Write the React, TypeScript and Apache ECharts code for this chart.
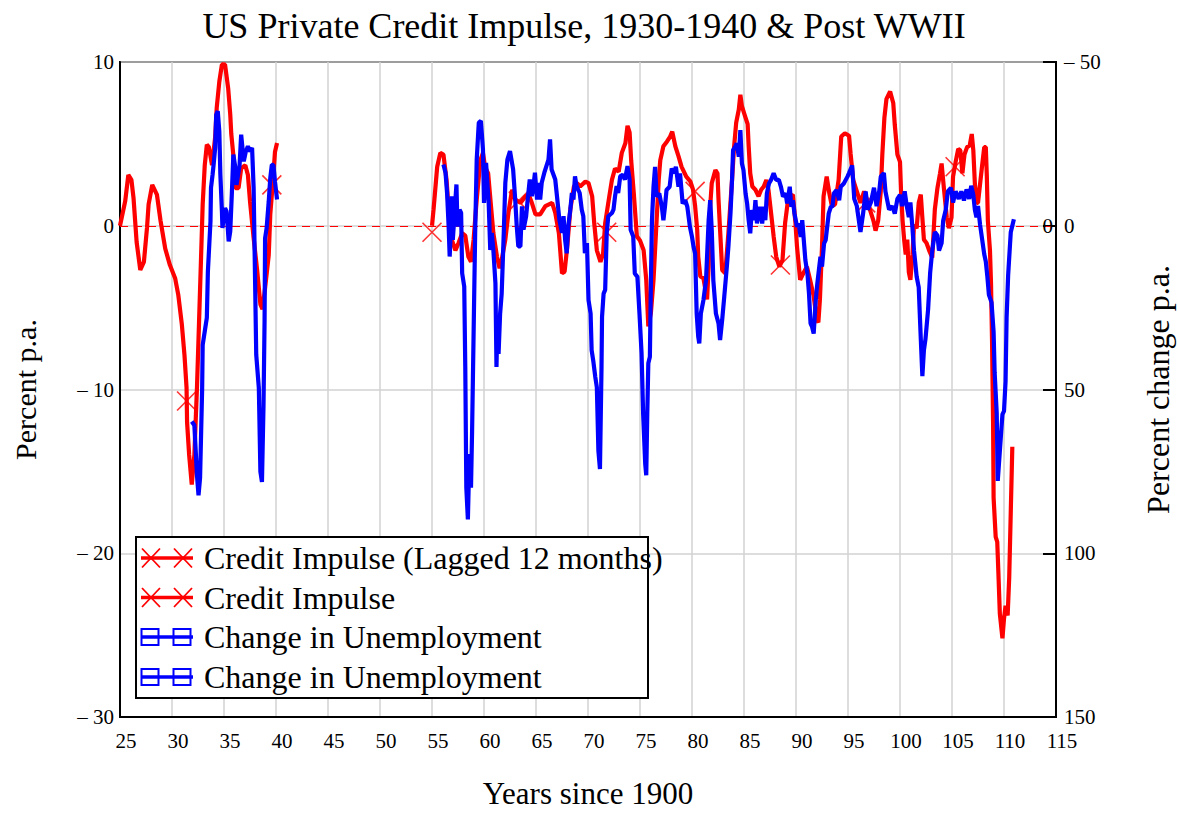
import React, { useEffect, useRef } from "react";
import * as echarts from "echarts";

const FONT = '"Liberation Serif", "Times New Roman", "DejaVu Serif", serif';

const TITLE = "US Private Credit Impulse, 1930-1940 & Post WWII";
const X_TICKS = { min: 25, max: 115, step: 5 };
const LEFT_TICKS = { min: -30, max: 10, step: 10 };
const RIGHT_TICKS = { min: -50, max: 150, step: 50 };

// Credit impulse, 1925-1940 (percent p.a., left axis)
const redPre: number[][] = [
  [25, 0], [25.5, 1.5], [25.8, 3.1], [26.1, 2.8], [26.3, 1.7], [26.6, -1], [26.95, -2.7], [27.3, -2.2],
  [27.6, -0.1], [27.75, 1.3], [28.1, 2.5], [28.55, 1.9], [28.9, 0.3], [29.35, -1.4], [29.8, -2.4],
  [30.3, -3.2], [30.6, -4.2], [30.95, -6.05], [31.2, -7.9], [31.4, -9.9], [31.45, -12], [31.65, -14],
  [31.9, -15.8], [32.15, -14], [32.4, -9.9], [32.6, -5.9], [32.8, -1.8], [32.95, 1.3], [33.15, 3.7],
  [33.35, 4.95], [33.55, 4.8], [33.85, 3.7], [34.15, 5.4], [34.3, 7.2], [34.55, 8.8], [34.8, 9.85],
  [35.1, 9.85], [35.4, 8.4], [35.6, 6.8], [35.7, 5.6], [35.9, 4.3], [36.1, 2.3], [36.4, 2.3], [36.65, 3.5],
  [37.05, 3.7], [37.3, 3.1], [37.5, 1.5], [37.85, -0.75], [38.2, -2.8], [38.5, -4.8], [38.7, -5.1],
  [38.95, -3.8], [39.3, -1.8], [39.45, 0.7], [39.7, 2.7], [39.9, 4.5], [40.1, 5.05],
];

// Credit impulse, post WWII (percent p.a., left axis)
const redPost: number[][] = [
  [55, 0], [55.15, 1.0], [55.5, 3.6], [55.8, 4.45], [56.1, 4.35], [56.4, 2.8], [56.6, 1.0], [56.9, -0.85],
  [57.25, -1.5], [57.55, -1.05], [57.9, -0.45], [58.2, -0.6], [58.5, -1.9], [58.75, -2.2], [59.0, -0.85],
  [59.3, 1.6], [59.65, 4.0], [59.9, 4.45], [60.1, 3.6], [60.4, 3.2], [60.7, 1.0], [60.9, -0.45],
  [61.25, -1.9], [61.5, -2.6], [61.7, -2.1], [62.05, -0.85], [62.35, 0.8], [62.7, 2.2], [63.0, 1.6],
  [63.5, 1.4], [64.0, 1.8], [64.3, 1.9], [64.6, 1.4], [64.95, 0.7], [65.4, 0.7], [65.9, 1.2], [66.55, 1.4],
  [66.85, 0.8], [67.2, -0.45], [67.5, -2.9], [67.75, -2.8], [68.0, -1.3], [68.3, 1.0], [68.65, 2.4],
  [68.95, 2.6], [69.25, 2.4], [69.75, 2.7], [70.05, 2.6], [70.4, 1.8], [70.6, 0.15], [70.85, -1.5],
  [71.2, -2.2], [71.45, -1.7], [71.65, 0.15], [72.0, 1.6], [72.3, 2.8], [72.6, 3.5], [72.95, 3.3],
  [73.25, 4.45], [73.6, 5.05], [73.8, 6.1], [74.0, 5.7], [74.15, 4.0], [74.4, 2.0], [74.7, -0.65],
  [75.0, -0.9], [75.35, -1.5], [75.6, -3.3], [75.8, -6.15], [76.05, -5.3], [76.3, -3.3], [76.55, -0.25],
  [76.8, 2.8], [76.95, 4.0], [77.25, 4.85], [77.6, 5.15], [77.9, 5.45], [78.1, 5.75], [78.4, 4.85],
  [78.7, 4.25], [79.0, 3.6], [79.45, 3.0], [79.85, 2.7], [80.1, 2.2], [80.3, 1.2], [80.5, -0.25],
  [80.6, -1.9], [80.8, -3.1], [81.1, -3.2], [81.45, -4.5], [81.6, -2.5], [81.75, 1.2], [81.9, 2.6],
  [82.25, 3.4], [82.45, 3.2], [82.55, 1.6], [82.7, -0.25], [82.9, -2.7], [83.2, -2.9], [83.5, -0.45],
  [83.85, 2.8], [84.05, 4.85], [84.25, 6.3], [84.5, 7.1], [84.65, 8.0], [84.8, 7.3], [85.1, 6.7],
  [85.35, 6.2], [85.45, 4.85], [85.6, 3.2], [85.8, 2.4], [86.1, 2.2], [86.4, 1.8], [86.65, 2.2],
  [86.9, 2.4], [87.15, 2.8], [87.35, 2.2], [87.6, 0.8], [87.85, -0.65], [88.1, -1.9], [88.4, -2.5],
  [88.7, -2.1], [88.95, 0.15], [89.2, 1.4], [89.45, 1.8], [89.7, 1.9], [89.95, 0.15], [90.1, -1.3],
  [90.25, -2.3], [90.4, -3.3], [90.7, -2.9], [91.05, -2.5], [91.35, -3.3], [91.7, -4.3], [92.0, -5.75],
  [92.15, -5.9], [92.3, -4.5], [92.5, -1.3], [92.65, 1.8], [92.95, 3.0], [93.2, 2.0], [93.45, 1.2],
  [93.75, 1.3], [94.1, 2.8], [94.35, 5.45], [94.7, 5.65], [95.1, 5.5], [95.25, 4.4], [95.5, 2.8],
  [95.75, 2.3], [95.95, 1.9], [96.2, 1.4], [96.55, 2.1], [96.8, 1.65], [97.1, 1.0], [97.45, 0.3],
  [97.65, -0.3], [97.9, 0.3], [98.15, 2.1], [98.3, 4.35], [98.5, 6.6], [98.7, 7.75], [99.05, 8.2],
  [99.35, 7.5], [99.5, 6.15], [99.75, 4.35], [100.0, 3.9], [100.1, 2.1], [100.25, 0.3], [100.4, -0.85],
  [100.55, -1.75], [100.7, -0.85], [100.85, -2.85], [101.0, -3.3], [101.2, -1.75], [101.35, 0.05],
  [101.6, -0.15], [101.8, 1.4], [102.0, 1.9], [102.15, 0.5], [102.3, -0.85], [102.55, -1.05],
  [102.8, -1.5], [103.1, -1.95], [103.35, 1.0], [103.6, 2.3], [103.85, 3.2], [104.0, 3.8], [104.25, 2.1],
  [104.5, 0.5], [104.7, -0.15], [104.95, 0.5], [105.1, 3.0], [105.35, 3.9], [105.6, 4.7], [105.8, 4.6],
  [106.0, 3.2], [106.2, 4.35], [106.45, 4.8], [106.7, 4.9], [106.9, 5.6], [107.05, 4.6], [107.2, 2.55],
  [107.4, 1.4], [107.5, 1.4], [107.7, 2.55], [107.9, 3.7], [108.1, 4.8], [108.25, 4.8], [108.35, 3.0],
  [108.45, 0.3], [108.65, -1.5], [108.75, -3.5], [108.85, -7], [108.95, -12], [109.0, -16.6],
  [109.2, -19.0], [109.35, -19.3], [109.45, -21], [109.6, -23.7], [109.85, -25.2], [110.0, -24.0],
  [110.15, -23.2], [110.35, -23.8], [110.5, -21.5], [110.65, -17.5], [110.8, -13.5],
];

// Change in unemployment, 1931-1940 (percent change p.a., right axis, inverted)
const bluePre: number[][] = [
  [31.9, 59.8], [32.15, 60.9], [32.4, 76.1], [32.55, 82.3], [32.7, 77], [32.9, 49.5], [32.95, 36.4],
  [33.2, 31.2], [33.35, 28.1], [33.45, 14], [33.7, -1.3], [33.75, -11.6], [33.9, -15.6], [34.0, -18.6],
  [34.15, -23.8], [34.25, -33.9], [34.4, -35], [34.55, -28.8], [34.65, -15.6], [34.8, -4.4], [34.85, 0.7],
  [35.1, -5.4], [35.25, -4.4], [35.45, 4.8], [35.6, 1.7], [35.75, -9.5], [35.9, -21.7], [36.05, -18.6],
  [36.2, -12.5], [36.5, -18.6], [36.65, -27.8], [36.9, -19.7], [37.1, -22.7], [37.3, -24.3], [37.5, -22.7],
  [37.7, -23.8], [37.85, -11.5], [37.95, 8.9], [38.1, 39.4], [38.35, 49.6], [38.5, 75.1], [38.65, 78.2],
  [38.8, 54.7], [38.9, 29.3], [38.95, 3.8], [39.1, 0.7], [39.3, -7.4], [39.45, -14.6], [39.6, -18.6],
  [39.75, -18.6], [39.9, -13.5], [40.1, -8],
];

// Change in unemployment, post WWII (percent change p.a., right axis, inverted)
const bluePost: number[][] = [
  [56.1, -18.7], [56.3, -16.2], [56.45, -10.0], [56.6, 0.2], [56.7, 9.4], [56.8, 2.2], [56.9, -9.0],
  [57.0, 4.3], [57.15, -2.9], [57.35, -12.6], [57.45, 0.2], [57.65, -4.9], [57.8, -3.9], [57.9, 14.5],
  [58.1, 18.6], [58.2, 43.1], [58.3, 80], [58.45, 89.7], [58.6, 69.7], [58.75, 80], [58.85, 63.6],
  [59.0, 32.9], [59.15, 2.2], [59.3, -20.2], [59.5, -31.5], [59.7, -32], [59.9, -23.3], [60.0, -6.95],
  [60.2, -19.2], [60.45, -6.95], [60.6, 7.4], [60.75, 2.2], [60.9, 7.4], [61.1, 17.6], [61.2, 43.1],
  [61.3, 27.8], [61.4, 39.1], [61.55, 26.8], [61.7, 20.7], [61.9, 2.2], [62.05, -13.1], [62.25, -20.2],
  [62.5, -22.8], [62.8, -17.2], [63.0, -8.0], [63.15, 0.2], [63.3, 6.3], [63.5, 6.3], [63.65, -5.9],
  [63.8, 1.2], [64.05, -2.9], [64.2, -8.0], [64.4, -14.1], [64.6, -9.0], [64.75, -12.1], [64.9, -16.2],
  [65.1, -8.0], [65.25, -13.1], [65.4, -8.0], [65.55, -13.1], [65.8, -16.2], [66.0, -18.2], [66.2, -20.2],
  [66.35, -26.4], [66.5, -17.2], [66.85, -14.1], [67.05, -8.0], [67.25, -1.8], [67.5, 2.2], [67.65, -2.9],
  [67.8, 4.3], [67.95, 8.4], [68.1, 0.2], [68.3, -4.9], [68.45, -10.0], [68.6, -8.0], [68.75, -15.1],
  [68.9, -12.1], [69.2, -10.0], [69.4, -4.9], [69.55, -2.9], [69.7, 8.4], [69.9, 5.3], [70.05, 22.7],
  [70.25, 26.8], [70.35, 38.0], [70.5, 41.1], [70.7, 46.2], [70.85, 49.3], [71.0, 68.7], [71.15, 74.3],
  [71.3, 43.1], [71.35, 27.8], [71.5, 20.7], [71.65, 19.6], [71.8, 2.2], [71.95, -2.9], [72.3, -3.9],
  [72.45, -4.9], [72.6, -9.0], [72.75, -12.1], [72.9, -10.0], [73.1, -15.1], [73.35, -15.6], [73.55, -14.1],
  [73.8, -18.2], [74.0, -14.1], [74.1, 1.2], [74.35, 3.3], [74.5, 14.6], [74.75, 15.6], [74.95, 26.8],
  [75.15, 39], [75.3, 57.3], [75.5, 72.6], [75.6, 76.2], [75.7, 57.3], [75.8, 42], [75.95, 40],
  [76.05, 16.6], [76.15, -1.7], [76.3, -11.9], [76.45, -18.0], [76.6, -8.9], [76.85, -9.9], [77.1, -5.8],
  [77.25, -1.7], [77.4, -5.8], [77.55, -10.9], [77.85, -11.9], [78.05, -17.5], [78.3, -16.0], [78.45, -18.0],
  [78.7, -11.9], [78.85, -16.0], [79.1, -6.8], [79.35, -7.8], [79.55, -5.8], [79.8, 0.3], [80.0, 3.4],
  [80.15, 6.4], [80.3, 8.5], [80.45, 26.8], [80.6, 33.9], [80.7, 35.9], [80.85, 26.8], [81.1, 22.7],
  [81.35, 16.6], [81.6, -1.7], [81.75, -7.8], [81.9, 1.3], [82.05, 16.6], [82.3, 26.8], [82.55, 29.8],
  [82.7, 34.9], [82.9, 28.8], [83.1, 21.7], [83.35, 12.5], [83.5, 6.4], [83.7, -3.8], [83.85, -14.0],
  [83.95, -23.1], [84.15, -24.1], [84.3, -25.2], [84.5, -21.1], [84.65, -29.2], [84.8, -19.0], [84.95, -17.0],
  [85.15, -9.9], [85.3, -6.8], [85.45, -1.7], [85.6, 2.3], [85.75, -4.8], [85.95, -1.7], [86.1, -7.8],
  [86.25, -0.7], [86.5, -5.8], [86.75, -0.7], [86.9, -5.8], [87.05, -1.7], [87.2, -9.9], [87.4, -12.9],
  [87.6, -14.0], [87.85, -16.0], [88.1, -14.0], [88.35, -14.0], [88.55, -11.9], [88.75, -8.9], [89.0, -9.9],
  [89.15, -6.8], [89.4, -11.9], [89.55, -5.8], [89.7, -7.8], [89.85, -3.8], [90.1, 0.3], [90.25, -0.7],
  [90.45, 3.4], [90.6, -1.7], [90.75, 4.4], [90.9, 10.5], [91.1, 14.6], [91.25, 20.7], [91.4, 29.8],
  [91.55, 30.9], [91.7, 32.9], [91.9, 22.7], [92.05, 17.6], [92.2, 13.5], [92.35, 9.5], [92.5, 12.5],
  [92.7, 5.4], [92.85, 4.4], [93.0, 0.3], [93.15, -3.8], [93.35, -5.8], [93.5, -5.8], [93.65, -9.9],
  [93.9, -10.9], [94.15, -7.8], [94.3, -11.9], [94.6, -12.9], [94.95, -15.0], [95.1, -16.1], [95.4, -18.4],
  [95.6, -8.2], [95.85, -6.0], [96.05, -1.5], [96.2, 1.9], [96.45, -3.7], [96.7, -10.5], [96.9, -4.9],
  [97.2, -7.1], [97.5, -11.6], [97.75, -6.0], [98.0, -10.5], [98.15, -15.0], [98.45, -16.1], [98.6, -10.5],
  [98.95, -4.9], [99.25, -6.0], [99.5, -3.7], [99.75, -8.2], [100.0, -9.4], [100.2, -6.0], [100.45, -10.5],
  [100.65, -6.0], [100.85, -2.6], [101.0, -7.1], [101.2, 0.8], [101.35, 7.6], [101.6, 15.5], [101.8, 18.8],
  [102.0, 34.6], [102.15, 45.9], [102.3, 38.0], [102.45, 34.6], [102.7, 25.6], [102.9, 14.3], [103.1, 7.6],
  [103.35, 1.9], [103.6, 3.0], [103.75, 7.6], [104.0, 5.3], [104.15, -1.5], [104.4, -4.9], [104.6, -10.5],
  [104.9, -11.6], [105.1, -7.1], [105.35, -10.5], [105.65, -8.2], [105.9, -10.5], [106.15, -7.7],
  [106.4, -11.1], [106.65, -8.2], [106.85, -12.2], [107.05, -9.4], [107.2, -4.9], [107.35, -2.6],
  [107.5, -6.0], [107.7, -0.3], [107.9, 4.2], [108.1, 8.7], [108.25, 10.9], [108.4, 15.5], [108.55, 21.1],
  [108.8, 23.4], [109.0, 32.4], [109.1, 44.8], [109.3, 57.2], [109.4, 77.9], [109.6, 68.8], [109.85, 57.6],
  [110.0, 56.6], [110.15, 47.5], [110.25, 28], [110.4, 15], [110.65, 2], [110.95, -2],
];

// X markers along the credit impulse traces
const redMarksPre: number[][] = [[31.4, -10.7], [39.6, 2.5]];
const redMarksPost: number[][] = [
  [55, -0.4], [63.3, 1.5], [71.8, -0.4], [80.3, 2.1], [88.5, -2.4], [96.7, 1.4], [105.3, 3.6],
];

const LEGEND_LABELS = [
  "Credit Impulse (Lagged 12 months)",
  "Credit Impulse",
  "Change in Unemployment",
  "Change in Unemployment",
];

const RED = "#ff0000";
const BLUE = "#0000ff";
const X_SYMBOL = "path://M0,0L20,20M20,0L0,20";

const fmtSigned = (v: number) => (v < 0 ? "\u2013 " + Math.abs(v) : String(v));

function buildLegend() {
  const left = 136;
  const top = 537;
  const w = 512;
  const h = 161;
  const rowY = [558, 597.5, 637, 677];
  const kinds = ["x", "x", "sq", "sq"];
  const colors = [RED, RED, BLUE, BLUE];
  const children: any[] = [
    {
      type: "rect",
      shape: { x: left, y: top, width: w, height: h },
      style: { fill: "#ffffff", stroke: "#000000", lineWidth: 2 },
      z: 100,
    },
  ];
  LEGEND_LABELS.forEach((label, i) => {
    const cy = rowY[i];
    const c = colors[i];
    children.push({
      type: "line",
      shape: { x1: 141, y1: cy, x2: 193, y2: cy },
      style: { stroke: c, lineWidth: 3.5 },
      z: 101,
    });
    if (kinds[i] === "x") {
      [151, 183].forEach((cx) => {
        children.push({
          type: "line",
          shape: { x1: cx - 9, y1: cy - 9.5, x2: cx + 9, y2: cy + 9.5 },
          style: { stroke: c, lineWidth: 1.8 },
          z: 101,
        });
        children.push({
          type: "line",
          shape: { x1: cx + 9, y1: cy - 9.5, x2: cx - 9, y2: cy + 9.5 },
          style: { stroke: c, lineWidth: 1.8 },
          z: 101,
        });
      });
    } else {
      [150, 182].forEach((cx) => {
        children.push({
          type: "rect",
          shape: { x: cx - 8.5, y: cy - 8, width: 17, height: 16 },
          style: { fill: "none", stroke: c, lineWidth: 2 },
          z: 101,
        });
      });
    }
    children.push({
      type: "text",
      x: 204,
      y: cy,
      style: {
        text: label,
        fill: "#000000",
        font: `32px ${FONT}`,
        textVerticalAlign: "middle",
        verticalAlign: "middle",
      },
      z: 101,
    });
  });
  return children;
}

export default function App() {
  const ref = useRef<HTMLDivElement>(null);

  useEffect(() => {
    document.body.style.margin = "0";
    if (!ref.current) return;
    const chart = echarts.init(ref.current, undefined, { renderer: "svg" });

    const lineSeries = (name: string, data: number[][], color: string, yAxisIndex: number, extra: any = {}) => ({
      type: "line",
      name,
      data,
      yAxisIndex,
      symbol: "none",
      smooth: false,
      clip: true,
      lineStyle: { color, width: 4.2 },
      itemStyle: { color },
      z: 3,
      ...extra,
    });

    const markSeries = (data: number[][]) => ({
      type: "scatter",
      data,
      yAxisIndex: 0,
      symbol: X_SYMBOL,
      symbolSize: [19, 19],
      itemStyle: { color: "rgba(0,0,0,0)", borderColor: RED, borderWidth: 1.6 },
      z: 4,
      silent: true,
    });

    const axisText = { color: "#000", fontSize: 21, fontFamily: FONT };

    chart.setOption({
      animation: false,
      backgroundColor: "#ffffff",
      title: {
        text: TITLE,
        left: 579,
        top: 3,
        textAlign: "center",
        textStyle: { color: "#000", fontSize: 36, fontWeight: "normal", fontFamily: FONT },
      },
      grid: {
        left: 120,
        top: 62,
        width: 936,
        height: 655,
        show: true,
        borderColor: "#000",
        borderWidth: 2,
        backgroundColor: "rgba(0,0,0,0)",
        containLabel: false,
        outerBoundsMode: "none",
      },
      xAxis: {
        type: "value",
        min: X_TICKS.min,
        max: X_TICKS.max,
        interval: X_TICKS.step,
        axisLine: { show: true, onZero: false, lineStyle: { color: "#000", width: 2 } },
        axisTick: { show: false },
        splitLine: { show: true, lineStyle: { color: "#d2d2d2", width: 1.5 } },
        axisLabel: { ...axisText, margin: 13, padding: [0, 0, 0, 12], showMinLabel: true, showMaxLabel: true },
        name: "Years since 1900",
        nameLocation: "middle",
        nameGap: 61,
        nameTextStyle: { color: "#000", fontSize: 31, lineHeight: 31, fontFamily: FONT },
      },
      yAxis: [
        {
          type: "value",
          position: "left",
          min: LEFT_TICKS.min,
          max: LEFT_TICKS.max,
          interval: LEFT_TICKS.step,
          axisLine: { show: true, onZero: false, lineStyle: { color: "#000", width: 2 } },
          axisTick: { show: false },
          splitLine: { show: true, lineStyle: { color: "#d2d2d2", width: 1.5 } },
          axisLabel: { ...axisText, margin: 6, formatter: fmtSigned, showMinLabel: true, showMaxLabel: true },
          name: "Percent p.a.",
          nameLocation: "middle",
          nameRotate: 90,
          nameGap: 80,
          nameTextStyle: { color: "#000", fontSize: 30, fontFamily: FONT },
        },
        {
          type: "value",
          position: "right",
          inverse: true,
          min: RIGHT_TICKS.min,
          max: RIGHT_TICKS.max,
          interval: RIGHT_TICKS.step,
          axisLine: { show: true, onZero: false, lineStyle: { color: "#000", width: 2 } },
          axisTick: { show: true, inside: true, length: 13, lineStyle: { color: "#000", width: 2 } },
          splitLine: { show: false },
          axisLabel: { ...axisText, margin: 8, formatter: fmtSigned, showMinLabel: true, showMaxLabel: true },
          name: "Percent change p.a.",
          nameLocation: "middle",
          nameRotate: 90,
          nameGap: 86,
          nameTextStyle: { color: "#000", fontSize: 32, fontFamily: FONT },
        },
      ],
      series: [
        lineSeries("Credit Impulse (Lagged 12 months)", redPre, RED, 0),
        lineSeries("Credit Impulse", redPost, RED, 0, {
          markLine: {
            silent: true,
            symbol: "none",
            lineStyle: { color: RED, type: [8, 6], width: 1.2 },
            label: {
              show: true,
              formatter: "0",
              position: "insideEndTop",
              distance: [3, -11],
              color: "#000",
              fontSize: 21,
              fontFamily: FONT,
            },
            data: [{ yAxis: 0 }],
          },
        }),
        lineSeries("Change in Unemployment", bluePre, BLUE, 1, { z: 5 }),
        lineSeries("Change in Unemployment ", bluePost, BLUE, 1, { z: 5 }),
        markSeries(redMarksPre),
        markSeries(redMarksPost),
      ],
      graphic: buildLegend(),
    });

    return () => chart.dispose();
  }, []);

  return <div ref={ref} style={{ width: 1178, height: 814 }} />;
}
